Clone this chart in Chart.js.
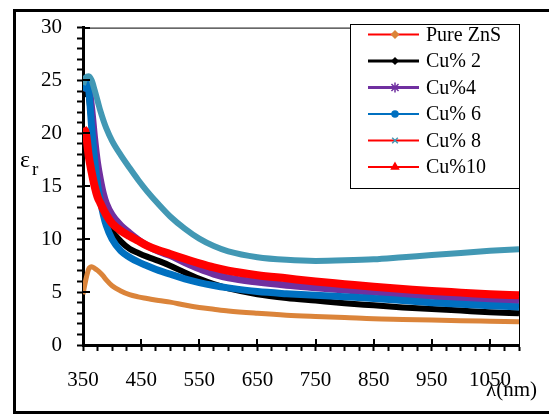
<!DOCTYPE html>
<html>
<head>
<meta charset="utf-8">
<script src="https://cdn.jsdelivr.net/npm/chart.js@4.4.0/dist/chart.umd.min.js"></script>
<style>
  html, body { margin: 0; padding: 0; background: #fff; }
  canvas { display: block; }
</style>
</head>
<body>
<canvas id="myChart" width="549" height="414"></canvas>
<script>
// wavelength (nm)
const wavelengths = [350, 355, 360, 365, 370, 375, 380, 385, 390, 400, 415, 430, 445, 460, 480, 500, 525, 550, 575, 600, 650, 700, 750, 800, 850, 900, 950, 1000, 1050, 1100];

// relative permittivity
const pureZnS = [4.8, 6.2, 7.2, 7.4, 7.25, 7.05, 6.8, 6.5, 6.15, 5.6, 5.1, 4.75, 4.55, 4.4, 4.2, 4.05, 3.78, 3.55, 3.38, 3.22, 3.0, 2.82, 2.7, 2.6, 2.48, 2.42, 2.36, 2.3, 2.25, 2.2];
const cu2 = [23.5, 24.5, 23.5, 21.0, 18.5, 16.5, 14.8, 13.3, 12.2, 10.8, 9.8, 9.1, 8.7, 8.35, 7.95, 7.5, 6.85, 6.25, 5.75, 5.35, 4.8, 4.45, 4.2, 3.95, 3.75, 3.55, 3.4, 3.25, 3.1, 3.0];
const cu4 = [24.0, 25.0, 24.5, 22.3, 19.5, 17.2, 15.6, 14.3, 13.4, 12.3, 11.3, 10.6, 9.95, 9.4, 8.85, 8.45, 7.8, 7.2, 6.7, 6.35, 5.95, 5.65, 5.42, 5.2, 5.0, 4.8, 4.6, 4.45, 4.3, 4.2];
const cu6 = [24.0, 25.0, 24.0, 20.5, 17.5, 15.2, 13.6, 12.3, 11.3, 10.0, 8.9, 8.3, 7.85, 7.5, 7.05, 6.7, 6.25, 5.9, 5.62, 5.4, 5.05, 4.85, 4.7, 4.55, 4.4, 4.2, 4.0, 3.85, 3.7, 3.6];
const cu8 = [24.6, 25.3, 25.4, 25.0, 24.1, 23.1, 22.1, 21.25, 20.5, 19.3, 17.95, 16.75, 15.6, 14.55, 13.3, 12.15, 11.0, 10.05, 9.35, 8.85, 8.3, 8.05, 7.95, 8.0, 8.1, 8.3, 8.5, 8.7, 8.9, 9.05];
const cu10 = [20.5, 20.0, 17.8, 16.3, 15.0, 14.0, 13.4, 12.8, 12.3, 11.5, 10.8, 10.3, 9.85, 9.4, 8.95, 8.6, 8.15, 7.72, 7.33, 7.02, 6.6, 6.3, 6.0, 5.75, 5.5, 5.3, 5.1, 4.95, 4.8, 4.7];

const seriesLabels = ["Pure ZnS", "Cu% 2", "Cu%4", "Cu% 6", "Cu% 8", "Cu%10"];
const seriesValues = [pureZnS, cu2, cu4, cu6, cu8, cu10];

const xTickLabels = [350, 450, 550, 650, 750, 850, 950, 1050];
const yTickLabels = [0, 5, 10, 15, 20, 25, 30];

// styles
const colors = ["#DB843A", "#000000", "#7030A0", "#0070C0", "#4298B4", "#FF0000"];
const widths = [5, 6, 7, 7, 6, 8];
const legendLineColors = ["#FF0000", "#000000", "#7030A0", "#0070C0", "#FF0000", "#FF0000"];
const legendLineWidths = [2, 3, 3, 2, 2, 2];
const markers = [
  { pointStyle: "rectRot", radius: 3.5 },
  { pointStyle: "rectRot", radius: 3 },
  { pointStyle: "star", radius: 5 },
  { pointStyle: "circle", radius: 3 },
  { pointStyle: "crossRot", radius: 4 },
  { pointStyle: "triangle", radius: 4 },
];

const serif = "'Times New Roman', 'Liberation Serif', serif";
Chart.defaults.font.family = serif;
Chart.defaults.color = "#000";

const datasets = seriesLabels.map((label, i) => ({
  label: label,
  data: wavelengths.map((w, j) => ({ x: w, y: seriesValues[i][j] })),
  borderColor: colors[i],
  backgroundColor: colors[i],
  borderWidth: widths[i],
  pointRadius: 0,
  cubicInterpolationMode: "monotone",
  order: seriesLabels.length - i
}));

const decorPlugin = {
  id: "decor",
  afterDraw(chart) {
    const ctx = chart.ctx;
    const area = chart.chartArea;
    const xs = chart.scales.x;
    const ys = chart.scales.y;
    ctx.save();

    // outer frame
    ctx.strokeStyle = "#000";
    ctx.lineWidth = 3;
    ctx.beginPath();
    ctx.moveTo(549, 10.5);
    ctx.lineTo(14.5, 10.5);
    ctx.lineTo(14.5, 412.5);
    ctx.lineTo(549, 412.5);
    ctx.stroke();

    // thin top / right plot border
    ctx.lineWidth = 1;
    ctx.beginPath();
    ctx.moveTo(area.left, area.top + 0.5);
    ctx.lineTo(area.right + 0.5, area.top + 0.5);
    ctx.lineTo(area.right + 0.5, area.bottom);
    ctx.stroke();

    // major ticks cross into the plot
    ctx.lineWidth = 2;
    ctx.beginPath();
    xTickLabels.forEach(v => {
      const px = Math.round(xs.getPixelForValue(v));
      ctx.moveTo(px, area.bottom);
      ctx.lineTo(px, area.bottom - 6);
    });
    yTickLabels.forEach(v => {
      const py = Math.round(ys.getPixelForValue(v));
      ctx.moveTo(area.left, py);
      ctx.lineTo(area.left + 7, py);
    });
    ctx.stroke();

    // legend box
    ctx.fillStyle = "#fff";
    ctx.fillRect(350, 24, area.right - 350, 164);
    ctx.lineWidth = 1;
    ctx.strokeRect(350.5, 24.5, area.right - 350, 164);

    ctx.font = "20px " + serif;
    ctx.textBaseline = "middle";
    ctx.textAlign = "left";
    seriesLabels.forEach((label, i) => {
      const y = 34.5 + i * 26.5;
      ctx.strokeStyle = legendLineColors[i];
      ctx.lineWidth = legendLineWidths[i];
      ctx.beginPath();
      ctx.moveTo(368, y);
      ctx.lineTo(419, y);
      ctx.stroke();
      ctx.fillStyle = colors[i];
      ctx.strokeStyle = colors[i];
      ctx.lineWidth = 1.5;
      Chart.helpers.drawPoint(ctx, { pointStyle: markers[i].pointStyle, radius: markers[i].radius, rotation: 0, borderWidth: 1.5 }, 395, y);
      ctx.fillStyle = "#000";
      ctx.fillText(label, 426, y + 1);
    });

    // axis titles
    ctx.fillStyle = "#000";
    ctx.textBaseline = "alphabetic";
    ctx.font = "24px " + serif;
    ctx.fillText("\u03b5", 20, 167);
    ctx.font = "19px " + serif;
    ctx.fillText("r", 32, 175);
    ctx.font = "21px " + serif;
    ctx.fillText("\u03bb(nm)", 486, 396);

    ctx.restore();
  }
};

new Chart(document.getElementById("myChart"), {
  type: "line",
  data: { datasets: datasets },
  options: {
    responsive: false,
    animation: false,
    layout: { padding: { left: 13, right: 30, top: 25, bottom: 0 } },
    plugins: {
      legend: { display: false },
      tooltip: { enabled: false }
    },
    scales: {
      x: {
        type: "linear",
        min: 350,
        max: 1100,
        afterFit: s => { s.height = 69; },
        border: { display: true, width: 3, color: "#000" },
        grid: { drawOnChartArea: false, drawTicks: true, tickLength: 6, tickWidth: 2, tickColor: "#000" },
        ticks: {
          stepSize: 25,
          autoSkip: false,
          maxRotation: 0,
          padding: 17,
          font: { size: 21 },
          color: "#000",
          callback: v => xTickLabels.includes(v) ? String(v) : ""
        }
      },
      y: {
        min: 0,
        max: 30,
        afterFit: s => { s.width = 70; },
        border: { display: true, width: 3, color: "#000" },
        grid: { drawOnChartArea: false, drawTicks: true, tickLength: 6, tickWidth: 2, tickColor: "#000" },
        ticks: {
          stepSize: 1,
          autoSkip: false,
          padding: 15,
          font: { size: 21 },
          color: "#000",
          callback: v => yTickLabels.includes(v) ? String(v) : ""
        }
      }
    }
  },
  plugins: [decorPlugin]
});
</script>
</body>
</html>
